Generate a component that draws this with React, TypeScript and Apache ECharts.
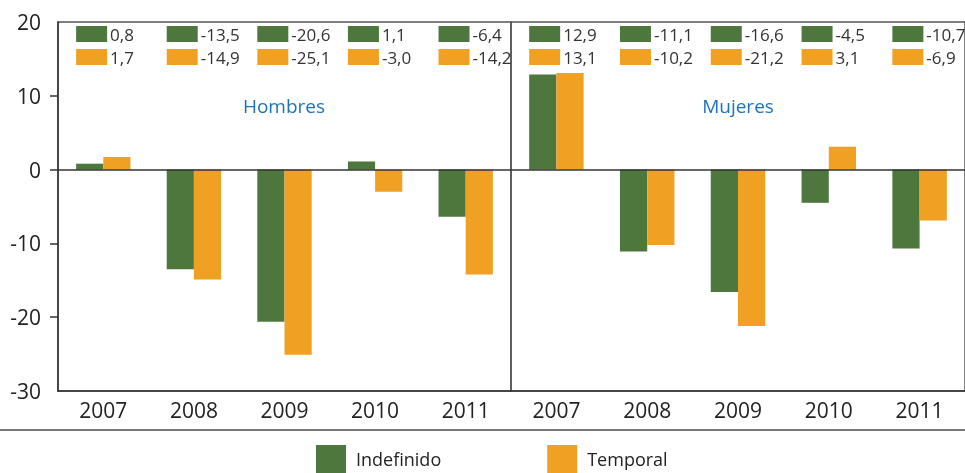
import React, { useEffect, useRef } from "react";
import * as echarts from "echarts";

const years = ["2007", "2008", "2009", "2010", "2011"];
const hombresIndefinido = [0.8, -13.5, -20.6, 1.1, -6.4];
const hombresTemporal = [1.7, -14.9, -25.1, -3.0, -14.2];
const mujeresIndefinido = [12.9, -11.1, -16.6, -4.5, -10.7];
const mujeresTemporal = [13.1, -10.2, -21.2, 3.1, -6.9];
const yTicks = [10, 0, -10, -20];

const GREEN = "#4e773d";
const ORANGE = "#f0a124";
const FONT = "Open Sans";

const fmt = (v: number) => v.toFixed(1).replace(".", ",");

function tableSeries(gridIdx: number, indef: number[], temp: number[]) {
  return {
    type: "custom",
    xAxisIndex: gridIdx,
    yAxisIndex: gridIdx,
    silent: true,
    clip: false,
    data: years.map((_, i) => [i, 20, indef[i], temp[i]]),
    encode: { x: 0, y: 1 },
    renderItem: (params: any, api: any) => {
      const i = api.value(0);
      const p = api.coord([i, 20]);
      const bw = api.size([1, 0])[0];
      const left = p[0] - bw * 0.3;
      const top = p[1];
      const rows = [
        { v: api.value(2), c: GREEN, y: top + 4 },
        { v: api.value(3), c: ORANGE, y: top + 27 },
      ];
      const children: any[] = [];
      rows.forEach((r) => {
        children.push({
          type: "rect",
          shape: { x: left, y: r.y, width: 31, height: 16 },
          style: { fill: r.c },
        });
        children.push({
          type: "text",
          x: left + 34,
          y: r.y + 8,
          style: {
            text: fmt(r.v),
            fill: "#333",
            fontSize: 17,
            fontFamily: FONT,
            verticalAlign: "middle",
            textAlign: "left",
          },
        });
      });
      return { type: "group", children };
    },
  };
}

export default function App() {
  const ref = useRef<HTMLDivElement>(null);
  useEffect(() => {
    if (!ref.current) return;
    const chart = echarts.init(ref.current, null, { renderer: "svg" });
    const xAxisBase = (gridIndex: number) => ({
      type: "category",
      gridIndex,
      data: years,
      axisTick: { show: false },
      axisLine: { onZero: false, lineStyle: { color: "#333", width: 1.5 } },
      axisLabel: { fontSize: 21, color: "#222", fontFamily: FONT, margin: 8 },
    });
    const yAxisBase = (gridIndex: number, show: boolean) => ({
      type: "value",
      gridIndex,
      min: -30,
      max: 20,
      interval: 10,
      splitLine: { show: false },
      axisLine: { show: show, lineStyle: { color: "#333", width: 1.5 } },
      axisTick: { show: show, length: 8, customValues: yTicks, lineStyle: { color: "#333", width: 1.5 } },
      axisLabel: { show: show, fontSize: 21, color: "#222", fontFamily: FONT, margin: 17 },
    });
    const zeroLine = {
      silent: true,
      symbol: "none",
      label: { show: false },
      lineStyle: { color: "#333", width: 1.5, type: "solid" },
      data: [{ yAxis: 0 }],
    };
    const barSeries = (name: string, gridIdx: number, data: number[], color: string, mark: boolean) => ({
      name,
      type: "bar",
      xAxisIndex: gridIdx,
      yAxisIndex: gridIdx,
      data,
      barGap: "0%",
      barCategoryGap: "40%",
      itemStyle: { color },
      ...(mark ? { markLine: zeroLine } : {}),
    });
    chart.setOption({
      animation: false,
      textStyle: { fontFamily: FONT },
      grid: [
        { left: 58, right: 454, top: 22, bottom: 82, show: true, borderColor: "#555", borderWidth: 1.5 },
        { left: 511, right: -3, top: 22, bottom: 82, show: true, borderColor: "#555", borderWidth: 1.5 },
      ],
      xAxis: [xAxisBase(0), xAxisBase(1)],
      yAxis: [yAxisBase(0, true), yAxisBase(1, false)],
      legend: {
        data: ["Indefinido", "Temporal"],
        left: 316,
        top: 445,
        padding: 0,
        itemWidth: 30,
        itemHeight: 28,
        itemGap: 106,
        icon: "rect",
        textStyle: { fontSize: 18, color: "#222", fontFamily: FONT, padding: [0, 0, 0, 5] },
      },
      graphic: [
        {
          type: "text",
          x: 284,
          y: 106,
          style: { text: "Hombres", fill: "#1b74bb", fontSize: 19, fontFamily: FONT, textAlign: "center", textVerticalAlign: "middle" },
        },
        {
          type: "text",
          x: 738,
          y: 106,
          style: { text: "Mujeres", fill: "#1b74bb", fontSize: 19, fontFamily: FONT, textAlign: "center", textVerticalAlign: "middle" },
        },
        {
          type: "line",
          shape: { x1: 0, y1: 430, x2: 965, y2: 430 },
          style: { stroke: "#777", lineWidth: 2 },
        },
      ],
      series: [
        barSeries("Indefinido", 0, hombresIndefinido, GREEN, true),
        barSeries("Temporal", 0, hombresTemporal, ORANGE, false),
        barSeries("Indefinido", 1, mujeresIndefinido, GREEN, true),
        barSeries("Temporal", 1, mujeresTemporal, ORANGE, false),
        tableSeries(0, hombresIndefinido, hombresTemporal),
        tableSeries(1, mujeresIndefinido, mujeresTemporal),
      ],
    });
    return () => chart.dispose();
  }, []);
  return <div ref={ref} style={{ position: "fixed", left: 0, top: 0, width: 965, height: 473 }} />;
}
